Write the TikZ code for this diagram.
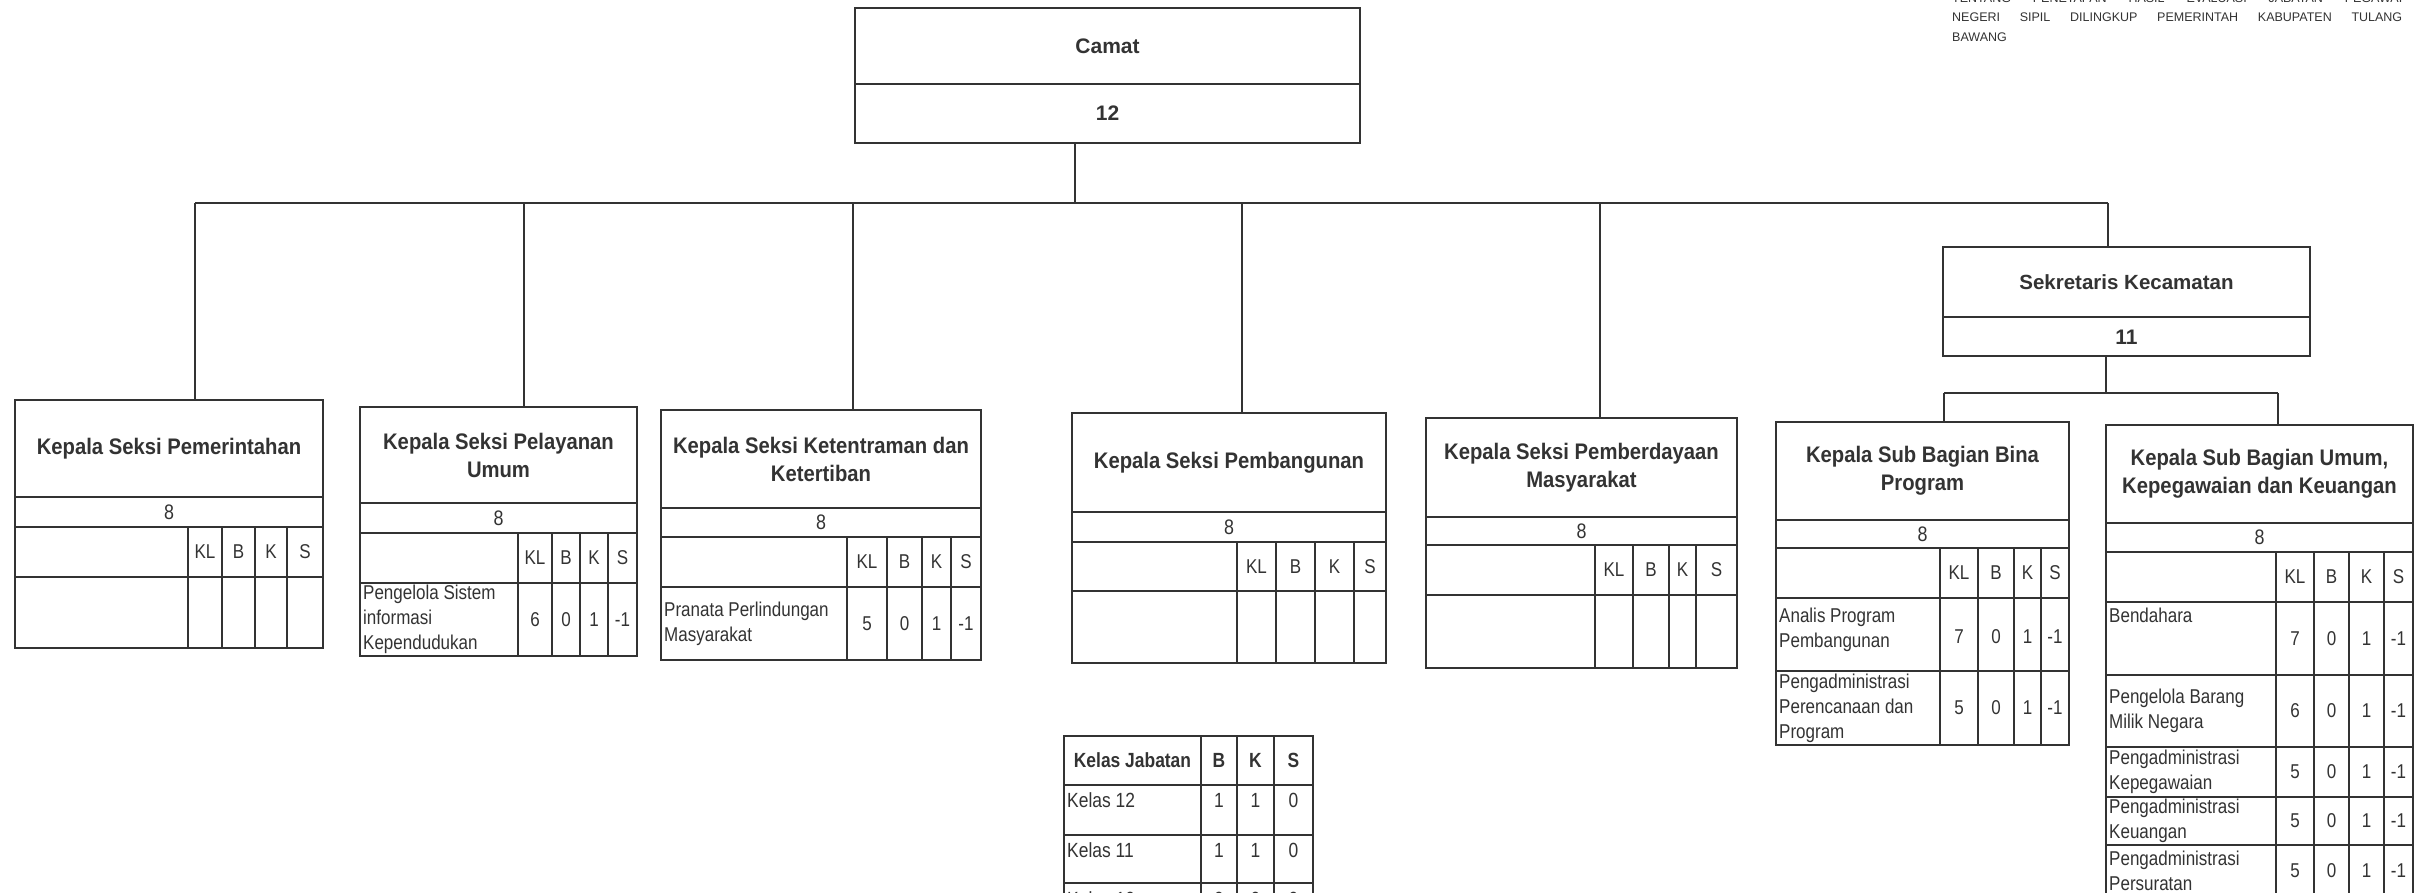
\documentclass[tikz,border=0pt]{standalone}
\usepackage{fontspec}
\setmainfont{Liberation Sans}
\newfontfamily\narrowf{Liberation Sans}[FakeStretch=0.85]
\newfontfamily\titlef{Liberation Sans}[FakeStretch=0.9]
\definecolor{ink}{HTML}{333333}
\tikzset{
  frame/.style={draw=ink, line width=2pt, rectangle, inner sep=0pt, outer sep=0pt},
  grid/.style={draw=ink, line width=1.8pt},
  conn/.style={draw=ink, line width=1.6pt},
  ttl/.style={text=ink, font=\titlef\bfseries\fontsize{22.5}{28}\selectfont, align=center, inner sep=0pt},
  big/.style={text=ink, font=\bfseries\fontsize{21}{25}\selectfont, inner sep=0pt},
  num/.style={text=ink, font=\narrowf\fontsize{21}{25}\selectfont, inner sep=0pt},
  cell/.style={text=ink, font=\narrowf\fontsize{20}{25}\selectfont, inner sep=0pt},
  rowtxt/.style={text=ink, font=\narrowf\fontsize{20}{25}\selectfont, align=left, inner sep=0pt, anchor=west, xshift=3pt},
  ktxt/.style={text=ink, font=\narrowf\fontsize{20.5}{25}\selectfont, inner sep=0pt},
  khead/.style={text=ink, font=\narrowf\bfseries\fontsize{20.5}{25}\selectfont, inner sep=0pt},
  note/.style={text=ink, font=\fontsize{12.5}{20}\selectfont, inner sep=0pt, anchor=west},
}
% #1 name, #2 x1, #3 x2, #4 top, #5 d1, #6 d2, #7 d3, #8 bottom, #9 title
\newcommand\obox[9]{%
  \node[frame, minimum width={#3-#2}, minimum height={#8-#4}] (#1) at ({(#2+#3)/2},{(#4+#8)/2}) {};
  \draw[grid] (#2,#5) -- (#3,#5) (#2,#6) -- (#3,#6) (#2,#7) -- (#3,#7);
  \node[ttl] (#1t) at ({(#2+#3)/2},{(#4+#5)/2}) {#9};
  \node[num] (#1n) at ({(#2+#3)/2},{(#5+#6)/2}) {8};
}
% #1 name, #2 x2, #3 d2, #4 d3, #5 bottom, #6..#9 column lines
\newcommand\ocols[9]{%
  \def\ca{#6}\def\cb{#7}\def\cc{#8}\def\cd{#9}\def\ce{#2}%
  \draw[grid] (#6,#3) -- (#6,#5) (#7,#3) -- (#7,#5) (#8,#3) -- (#8,#5) (#9,#3) -- (#9,#5);
  \node[cell] (#1hkl) at ({(#6+#7)/2},{(#3+#4)/2}) {KL};
  \node[cell] (#1hb) at ({(#7+#8)/2},{(#3+#4)/2}) {B};
  \node[cell] (#1hk) at ({(#8+#9)/2},{(#3+#4)/2}) {K};
  \node[cell] (#1hs) at ({(#9+#2)/2},{(#3+#4)/2}) {S};
}
% #1 name, #2 row id, #3 y1, #4 y2, #5 text, #6..#9 values
\newcommand\orow[9]{%
  \path (0,{(#3+#4)/2}) coordinate (#1#2y);
  \node[rowtxt] (#1#2t) at (#1.west |- #1#2y) {#5};
  \node[cell] (#1#2a) at ({(\ca+\cb)/2},{(#3+#4)/2}) {#6};
  \node[cell] (#1#2b) at ({(\cb+\cc)/2},{(#3+#4)/2}) {#7};
  \node[cell] (#1#2c) at ({(\cc+\cd)/2},{(#3+#4)/2}) {#8};
  \node[cell] (#1#2d) at ({(\cd+\ce)/2},{(#3+#4)/2}) {#9};
}
\begin{document}
\begin{tikzpicture}[x=1pt,y=-1pt]
\useasboundingbox (0,0) rectangle (2415,893);
\fill[white] (0,0) rectangle (2415,893);

% note top right
\node[note] (nt1) at (1952,-1.5) {\makebox[450pt][s]{TENTANG PENETAPAN HASIL EVALUASI JABATAN PEGAWAI}};
\node[note] (nt2) at (1952,17) {\makebox[450pt][s]{NEGERI SIPIL DILINGKUP PEMERINTAH KABUPATEN TULANG}};
\node[note] (nt3) at (1952,37) {BAWANG};

% Camat
\node[frame, minimum width=505, minimum height=135] (camat) at ({(855+1360)/2},{(8+143)/2}) {};
\draw[grid] (855,84) -- (1360,84);
\node[big] (camatt) at (1107.5,46) {Camat};
\node[big] (camatn) at (1107.5,113.5) {12};

% Sekretaris
\node[frame, minimum width=367, minimum height=109] (sek) at ({(1943+2310)/2},{(247+356)/2}) {};
\draw[grid] (1943,317) -- (2310,317);
\node[big, font=\bfseries\fontsize{20.5}{25}\selectfont] (sekt) at (2126.5,282) {Sekretaris Kecamatan};
\node[big] (sekn) at (2126.5,337) {11};

% boxes
\obox{b1}{15}{323}{400}{497}{527}{577}{648}{Kepala Seksi Pemerintahan}
\ocols{b1}{323}{527}{577}{648}{188}{222}{255}{287}

\obox{b2}{360}{637}{407}{503}{533}{583}{656}{Kepala Seksi Pelayanan\\Umum}
\ocols{b2}{637}{533}{583}{656}{518}{552}{580}{608}
\orow{b2}{r1}{583}{656}{Pengelola Sistem\\informasi\\Kependudukan}{6}{0}{1}{-1}

\obox{b3}{661}{981}{410}{508}{537}{587}{660}{Kepala Seksi Ketentraman dan\\Ketertiban}
\ocols{b3}{981}{537}{587}{660}{847}{887}{922}{951}
\orow{b3}{r1}{587}{660}{Pranata Perlindungan\\Masyarakat}{5}{0}{1}{-1}

\obox{b4}{1072}{1386}{413}{512}{542}{591}{663}{Kepala Seksi Pembangunan}
\ocols{b4}{1386}{542}{591}{663}{1237}{1276}{1315}{1354}

\obox{b5}{1426}{1737}{418}{517}{545}{595}{668}{Kepala Seksi Pemberdayaan\\Masyarakat}
\ocols{b5}{1737}{545}{595}{668}{1595}{1633}{1669}{1696}

\obox{b6}{1776}{2069}{422}{520}{548}{598}{745}{Kepala Sub Bagian Bina\\Program}
\ocols{b6}{2069}{548}{598}{745}{1940}{1978}{2014}{2041}
\draw[grid] (1776,671) -- (2069,671);
\orow{b6}{r1}{598}{662}{Analis Program\\Pembangunan}{}{}{}{}
\orow{b6}{r1v}{598}{676}{}{7}{0}{1}{-1}
\orow{b6}{r2}{671}{745}{Pengadministrasi\\Perencanaan dan\\Program}{5}{0}{1}{-1}

\obox{b7}{2106}{2413}{425}{523}{552}{602}{896}{Kepala Sub Bagian Umum,\\Kepegawaian dan Keuangan}
\ocols{b7}{2413}{552}{602}{896}{2276}{2314}{2349}{2384}
\draw[grid] (2106,675) -- (2413,675) (2106,747) -- (2413,747) (2106,797) -- (2413,797) (2106,845) -- (2413,845);
\orow{b7}{r1}{602}{676}{}{7}{0}{1}{-1}
\path (0,615) coordinate (b7by);
\node[rowtxt] (b7bt) at (b7.west |- b7by) {Bendahara};
\orow{b7}{r2}{675}{747}{Pengelola Barang\\Milik Negara}{6}{0}{1}{-1}
\orow{b7}{r3}{747}{797}{Pengadministrasi\\Kepegawaian}{5}{0}{1}{-1}
\orow{b7}{r4}{797}{845}{Pengadministrasi\\Keuangan}{5}{0}{1}{-1}
\orow{b7}{r5}{845}{896}{Pengadministrasi\\Persuratan}{5}{0}{1}{-1}

% Kelas Jabatan table
\node[frame, minimum width=249, minimum height=204] (kelas) at ({(1064+1313)/2},{(736+940)/2}) {};
\draw[grid] (1064,785) -- (1313,785) (1064,835) -- (1313,835) (1064,883) -- (1313,883);
\draw[grid] (1201,736) -- (1201,940) (1237,736) -- (1237,940) (1274,736) -- (1274,940);
\node[khead] (kh1) at (1132.5,760.5) {Kelas Jabatan};
\node[khead] (kh2) at (1219,760.5) {B};
\node[khead] (kh3) at (1255.5,760.5) {K};
\node[khead] (kh4) at (1293.5,760.5) {S};
\node[ktxt, anchor=west] (k12) at (1067,800) {Kelas 12};
\node[ktxt] (k12a) at (1219,800) {1};
\node[ktxt] (k12b) at (1255.5,800) {1};
\node[ktxt] (k12c) at (1293.5,800) {0};
\node[ktxt, anchor=west] (k11) at (1067,850) {Kelas 11};
\node[ktxt] (k11a) at (1219,850) {1};
\node[ktxt] (k11b) at (1255.5,850) {1};
\node[ktxt] (k11c) at (1293.5,850) {0};
\node[ktxt, anchor=west] (k10) at (1067,899) {Kelas 10};
\node[ktxt] (k10a) at (1219,899) {0};
\node[ktxt] (k10b) at (1255.5,899) {0};
\node[ktxt] (k10c) at (1293.5,899) {0};

% connectors
\coordinate (jc) at (1075,203);
\coordinate (jl) at (195,203);
\coordinate (jr) at (2108,203);
\coordinate (d2) at (524,203);
\coordinate (d3) at (853,203);
\coordinate (d4) at (1242,203);
\coordinate (d5) at (1600,203);
\draw[conn] (camat.south -| jc) -- (jc);
\draw[conn] (jl) -- (jr);
\draw[conn] (jl) -- (jl |- b1.north);
\draw[conn] (d2) -- (d2 |- b2.north);
\draw[conn] (d3) -- (d3 |- b3.north);
\draw[conn] (d4) -- (d4 |- b4.north);
\draw[conn] (d5) -- (d5 |- b5.north);
\draw[conn] (jr) -- (jr |- sek.north);
\coordinate (js) at (2106,393);
\coordinate (jsl) at (1944,393);
\coordinate (jsr) at (2278,393);
\draw[conn] (sek.south -| js) -- (js);
\draw[conn] (jsl) -- (jsr);
\draw[conn] (jsl) -- (jsl |- b6.north);
\draw[conn] (jsr) -- (jsr |- b7.north);
\end{tikzpicture}
\end{document}
